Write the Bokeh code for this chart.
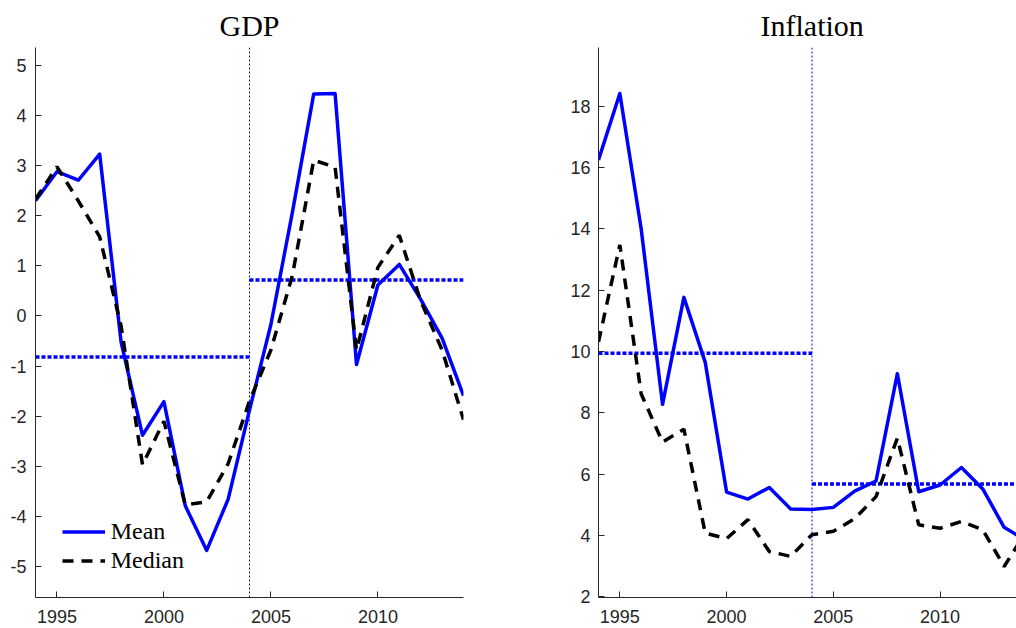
from bokeh.plotting import figure
from bokeh.layouts import row
from bokeh.models import Legend, LegendItem, Span, FixedTicker, Range1d
from bokeh.embed import file_html
from bokeh.resources import INLINE

# Annual series, 1994-2014
years = list(range(1994, 2015))

gdp_mean = [2.30, 2.88, 2.71, 3.23, -0.52, -2.38, -1.71, -3.79, -4.68, -3.66, -1.88,
            -0.17, 2.06, 4.43, 4.44, -0.97, 0.62, 1.03, 0.33, -0.44, -1.59]
gdp_median = [2.33, 2.98, 2.30, 1.58, -0.20, -2.97, -2.10, -3.77, -3.71, -2.95, -1.70,
              -0.68, 0.80, 3.11, 2.97, -0.68, 0.97, 1.61, 0.30, -0.68, -2.07]

infl_mean = [16.25, 18.42, 14.00, 8.28, 11.77, 9.65, 5.42, 5.19, 5.57, 4.87, 4.85,
             4.92, 5.45, 5.78, 9.28, 5.43, 5.65, 6.22, 5.52, 4.27, 3.85]
infl_median = [10.32, 13.48, 8.62, 7.05, 7.47, 4.08, 3.90, 4.52, 3.48, 3.32, 4.03,
               4.14, 4.55, 5.27, 7.18, 4.35, 4.24, 4.46, 4.19, 2.99, 4.10]

# Sub-period averages (before / after the break year)
break_year = 2004
gdp_avg = [-0.82, 0.72]
infl_avg = [9.95, 5.68]

x_ticks = [1995, 2000, 2005, 2010]
gdp_ticks = [-5, -4, -3, -2, -1, 0, 1, 2, 3, 4, 5]
infl_ticks = [2, 4, 6, 8, 10, 12, 14, 16, 18]

AXIS_COLOR = "#262626"
SERIF = "Liberation Serif"
SANS = "Liberation Sans"


def panel(title, mean, median, avg, yticks, xr, yr, frame_w, border_l, border_r,
          label_standoff=9, title_align="center", title_offset=0):
    p = figure(frame_width=frame_w, frame_height=550,
               x_range=Range1d(*xr), y_range=Range1d(*yr),
               output_backend="svg", toolbar_location=None,
               min_border_left=border_l, min_border_right=border_r,
               min_border_top=47, min_border_bottom=31,
               background_fill_color="white", border_fill_color="white")
    p.outline_line_color = None
    p.grid.visible = False

    p.title.text = title
    p.title.align = title_align
    p.title.offset = title_offset
    p.title.standoff = 12
    p.title.text_font = SERIF
    p.title.text_font_size = "30px"
    p.title.text_font_style = "normal"
    p.title.text_color = "black"

    for ax in (p.xaxis[0], p.yaxis[0]):
        ax.axis_line_color = AXIS_COLOR
        ax.axis_line_width = 1
        ax.major_tick_line_color = AXIS_COLOR
        ax.major_tick_in = 6
        ax.major_tick_out = 0
        ax.minor_tick_line_color = None
        ax.major_label_text_font = SANS
        ax.major_label_text_font_size = "18px"
        ax.major_label_text_color = AXIS_COLOR
    p.xaxis[0].ticker = FixedTicker(ticks=x_ticks)
    p.yaxis[0].ticker = FixedTicker(ticks=yticks)
    # plain hyphen for negative tick values
    p.yaxis[0].major_label_overrides = {t: str(t) for t in yticks}
    p.xaxis[0].major_label_standoff = 12
    p.yaxis[0].major_label_standoff = label_standoff

    # break year marker
    p.add_layout(Span(location=break_year, dimension="height", line_color="blue",
                      line_width=1, line_dash="2 2"))

    # sub-period averages
    p.line([years[0], break_year], [avg[0], avg[0]], line_color="blue",
           line_width=3.5, line_dash="4 2")
    p.line([break_year, years[-1]], [avg[1], avg[1]], line_color="blue",
           line_width=3.5, line_dash="4 2")

    r_mean = p.line(years, mean, line_color="blue", line_width=3.5,
                    line_join="round")
    r_median = p.line(years, median, line_color="black", line_width=3.5,
                      line_dash="11 8")
    return p, r_mean, r_median


p1, m1, md1 = panel("GDP", gdp_mean, gdp_median, gdp_avg, gdp_ticks,
                    (1994, 2014), (-5.62, 5.36), 428, 35, 77)

legend = Legend(items=[LegendItem(label="Mean", renderers=[m1]),
                       LegendItem(label="Median", renderers=[md1])],
                location=(26.7, 22.5), padding=0, margin=0, spacing=0,
                glyph_width=43, glyph_height=29, label_height=29,
                label_standoff=6, border_line_color=None,
                background_fill_alpha=0,
                label_text_font=SERIF, label_text_font_size="24px",
                label_text_color="black")
p1.add_layout(legend)

# right panel runs past the window edge; its frame stops at the page border,
# so the heading is placed from the left to stay centred on the full span
p2, _, _ = panel("Inflation", infl_mean, infl_median, infl_avg, infl_ticks,
                 (1994, 2013.58), (1.98, 19.92), 418, 58, 0,
                 label_standoff=8, title_align="left", title_offset=162)

layout = row(p1, p2)

with open("out.html", "w") as f:
    f.write(file_html(layout, INLINE))
